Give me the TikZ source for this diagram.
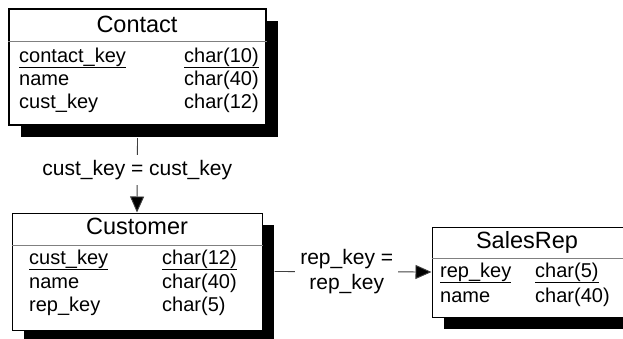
\documentclass[tikz,border=0pt]{standalone}
\usepackage{fontspec}
\setmainfont{Liberation Sans}
\usetikzlibrary{positioning, calc, shadows, arrows.meta}

\tikzset{
  tbl/.style={draw, fill=white, line width=1pt, inner sep=0pt,
    drop shadow={shadow xshift=12pt, shadow yshift=-12pt, opacity=1, fill=black}},
  ttl/.style={anchor=base, inner sep=0pt, font=\fontsize{23.5}{28}\selectfont},
  fld/.style={anchor=base west, inner sep=0pt, font=\fontsize{20}{24}\selectfont},
  sep/.style={gray, line width=1pt},
  link/.style={draw=black!75, line width=0.9pt, -{Triangle[length=16pt,width=14pt,fill=black]}},
  lbl/.style={fill=white, inner sep=5pt, align=center, font=\fontsize{21}{25}\selectfont}
}

\begin{document}
\begin{tikzpicture}[x=1pt, y=-1pt]
  \useasboundingbox (0,0) rectangle (623,338);
  \clip (0,0) rectangle (623,338);

  % tables
  \node[tbl, line width=2pt, minimum width=257pt, minimum height=116pt] (contact) at (137.5,67) {};
  \node[tbl, minimum width=250pt, minimum height=117pt] (customer) at (137,271.5) {};
  \node[tbl, minimum width=208pt, minimum height=90pt] (salesrep) at (536,272) {};

  \draw[sep] (contact.west |- 0,41) -- (contact.east |- 0,41);
  \draw[sep] (customer.west |- 0,245) -- (customer.east |- 0,245);
  \draw[sep] (salesrep.west |- 0,258) -- (salesrep.east |- 0,258);

  % titles
  \node[ttl] (contact-title) at (137,32) {Contact};
  \node[ttl] (customer-title) at (137,234) {Customer};
  \node[ttl] (salesrep-title) at (527,248) {SalesRep};

  % fields
  \node[fld] (contact-key) at (19,62) {\underline{contact\_key}};
  \node[fld] (contact-key-type) at (184,62) {\underline{char(10)}};
  \node[fld] (contact-name) at (19,85) {name};
  \node[fld] (contact-name-type) at (184,85) {char(40)};
  \node[fld] (contact-cust) at (19,108) {cust\_key};
  \node[fld] (contact-cust-type) at (184,108) {char(12)};

  \node[fld] (customer-key) at (29,264) {\underline{cust\_key}};
  \node[fld] (customer-key-type) at (162,264) {\underline{char(12)}};
  \node[fld] (customer-name) at (29,288) {name};
  \node[fld] (customer-name-type) at (162,288) {char(40)};
  \node[fld] (customer-rep) at (29,311) {rep\_key};
  \node[fld] (customer-rep-type) at (162,311) {char(5)};

  \node[fld] (salesrep-key) at (440,277) {\underline{rep\_key}};
  \node[fld] (salesrep-key-type) at (535,277) {\underline{char(5)}};
  \node[fld] (salesrep-name) at (440,302) {name};
  \node[fld] (salesrep-name-type) at (535,302) {char(40)};

  % joins
  \draw[link] ([yshift=-12pt]contact.south) -- node[lbl, pos=0.43] (cust-join) {cust\_key = cust\_key} (customer.north);
  \draw[link] ([xshift=12pt]customer.east) -- node[lbl, pos=0.46] (rep-join) {rep\_key =\\rep\_key} (salesrep.west);
\end{tikzpicture}
\end{document}
